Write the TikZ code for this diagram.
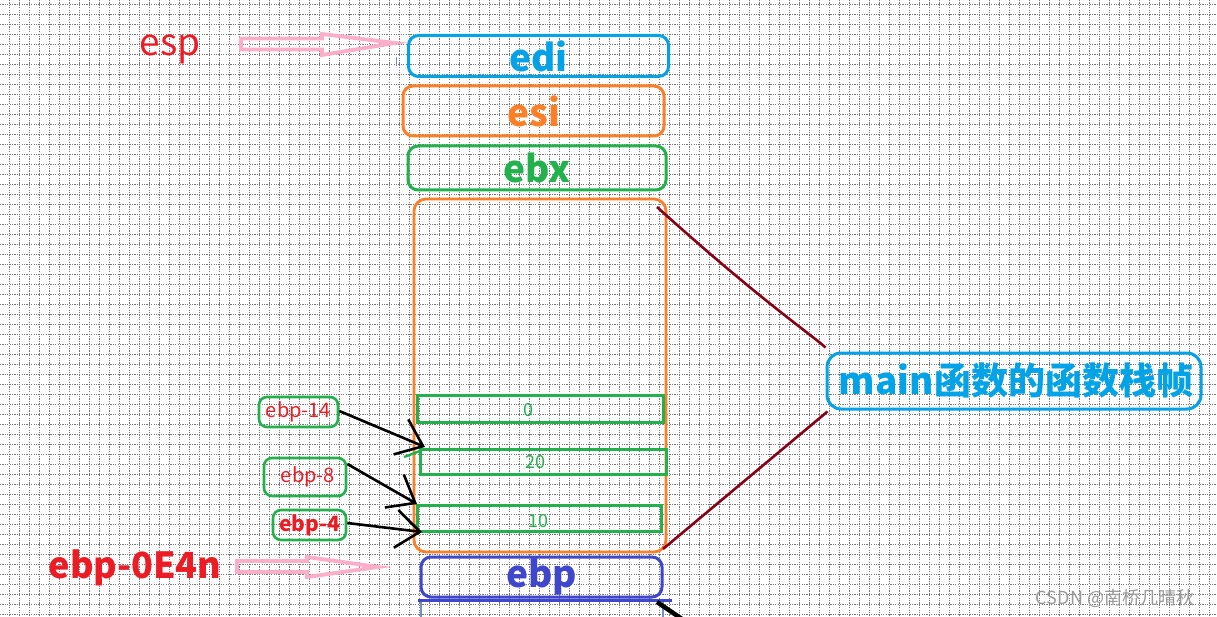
\documentclass[tikz,border=0pt]{standalone}
\usepackage{fontspec}
\setmainfont{Noto Sans CJK SC}
\usetikzlibrary{arrows.meta}
\definecolor{cblue}{RGB}{0,162,232}
\definecolor{corange}{RGB}{255,127,39}
\definecolor{cgreen}{RGB}{34,177,76}
\definecolor{cred}{RGB}{237,28,36}
\definecolor{cpink}{RGB}{255,174,201}
\definecolor{cindigo}{RGB}{63,72,204}
\definecolor{cdark}{RGB}{136,0,21}
\definecolor{csteel}{RGB}{112,146,190}
\definecolor{cgrid}{RGB}{120,120,120}
\tikzset{
  gridline/.style={cgrid, line width=0.8pt, dash pattern=on 1.2pt off 1.2pt},
  regbox/.style={draw=#1, line width=3pt, rounded corners=10pt, inner sep=0pt, text=#1},
  cellbox/.style={draw=cgreen, line width=3pt, inner sep=0pt},
  lblbox/.style={draw=cgreen, line width=2.6pt, rounded corners=8pt, inner sep=0pt, text=cred},
  numtext/.style={text=cgreen, inner sep=0pt, font=\fontsize{18}{20}\selectfont},
  ptr/.style={black, line width=2.6pt, -{Straight Barb[length=24pt,width=38pt]}},
  pinkarrow/.style={cpink, line width=3.8pt, line join=miter},
  brace/.style={cdark, line width=2.6pt},
}
\begin{document}
\begin{tikzpicture}[x=1pt,y=-1pt]
\useasboundingbox (0,0) rectangle (1217,617);
\fill[white] (0,0) rectangle (1217,617);
\foreach \x in {9.5,19.5,...,1217} \draw[gridline] (\x,0) -- (\x,617);
\foreach \y in {4.5,14.5,...,617} \draw[gridline] (0,\y) -- (1217,\y);

% left labels
\node[anchor=base, text=cred, inner sep=0pt, font=\fontsize{37}{40}\selectfont] (esp) at (170,56) {esp};
\node[anchor=base, text=cred, inner sep=0pt, font=\fontsize{36}{40}\selectfont\bfseries] (ebp0) at (135,578) {ebp-0E4n};

% pink arrows
\draw[pinkarrow] (241,38.5) -- (322,38.5) -- (322,34) -- (395,43) -- (322,55) -- (322,49.5) -- (241,49.5) -- cycle;
\draw[pinkarrow] (237,561) -- (307,561) -- (307,557) -- (378,567) -- (307,577) -- (307,572) -- (237,572) -- cycle;
\draw[csteel, line width=1pt] (396,57) -- (396,66);

% register boxes
\node[regbox=cblue, minimum width=260, minimum height=41] (edi) at (538.5,56) {\fontsize{37}{40}\selectfont\bfseries edi};
\node[regbox=corange, minimum width=261, minimum height=50] (esi) at (533.5,111) {\fontsize{37}{40}\selectfont\bfseries esi};
\node[regbox=cgreen, minimum width=258, minimum height=44] (ebx) at (537,168) {\fontsize{37}{40}\selectfont\bfseries ebx};

% frame
\node[draw=corange, line width=2.8pt, rounded corners=12pt, minimum width=252, minimum height=353, inner sep=0pt] (frame) at (540,375.5) {};

% cells
\node[cellbox, minimum width=246, minimum height=27] (c0) at (540,408.5) {};
\node[numtext] (t0) at (528,410) {0};
\node[cellbox, minimum width=246, minimum height=25] (c20) at (543,461.5) {};
\node[numtext] (t20) at (535,462) {20};
\node[cellbox, minimum width=244, minimum height=26] (c10) at (539,518) {};
\node[numtext] (t10) at (538,521) {10};
\draw[cgreen, line width=2.4pt] (404,457) -- (420,451);

% offset labels
\node[lblbox, minimum width=79, minimum height=30, font=\fontsize{20}{24}\selectfont] (l14) at (298.5,412) {ebp-14};
\node[lblbox, minimum width=82, minimum height=38, font=\fontsize{20}{24}\selectfont] (l8) at (305,477) {\hspace*{6pt}ebp-8};
\node[lblbox, minimum width=73, minimum height=30, font=\fontsize{21}{24}\selectfont\bfseries] (l4) at (309.5,525) {ebp-4};

\coordinate (p14) at (425,447);
\coordinate (p8) at (417,504);
\coordinate (p4) at (422,532);
\draw[ptr] ([yshift=1pt]l14.east) -- (p14);
\draw[ptr] ([yshift=13pt]l8.east) -- (p8);
\draw[ptr] ([yshift=2pt]l4.east) -- (p4);

% ebp box and below
\node[regbox=cindigo, minimum width=241, minimum height=40] (ebp) at (541.5,577) {\fontsize{37}{40}\selectfont\bfseries ebp};
\coordinate (nb1) at (418,600.5);
\coordinate (nb2) at (672,600.5);
\draw[cindigo, line width=2.8pt] (nb1) -- (nb2);
\draw[csteel, line width=2.6pt] (421,602) -- (421,617);
\draw[csteel, line width=2.6pt] (663,602) -- (663,617);
\draw[black, line width=4.5pt] (657,602) -- (682,619);

% main frame label
\node[regbox=cblue, minimum width=374, minimum height=56, rounded corners=14pt] (main) at (1014,381) {\hspace*{4pt}\fontsize{37}{44}\selectfont\bfseries main函数的函数栈帧};
\coordinate (f1) at (657,207);
\coordinate (f2) at (663,549);
\draw[brace] (f1) .. controls (760,300) and (812,335) .. ([yshift=4pt]main.north west);
\draw[brace] (f2) -- ([xshift=2pt,yshift=-1pt]main.south west);

% watermark
\node[text=black!40, inner sep=0pt, font=\fontsize{18}{20}\selectfont] (wm) at (1115,598) {CSDN @南桥几晴秋};
\end{tikzpicture}
\end{document}
